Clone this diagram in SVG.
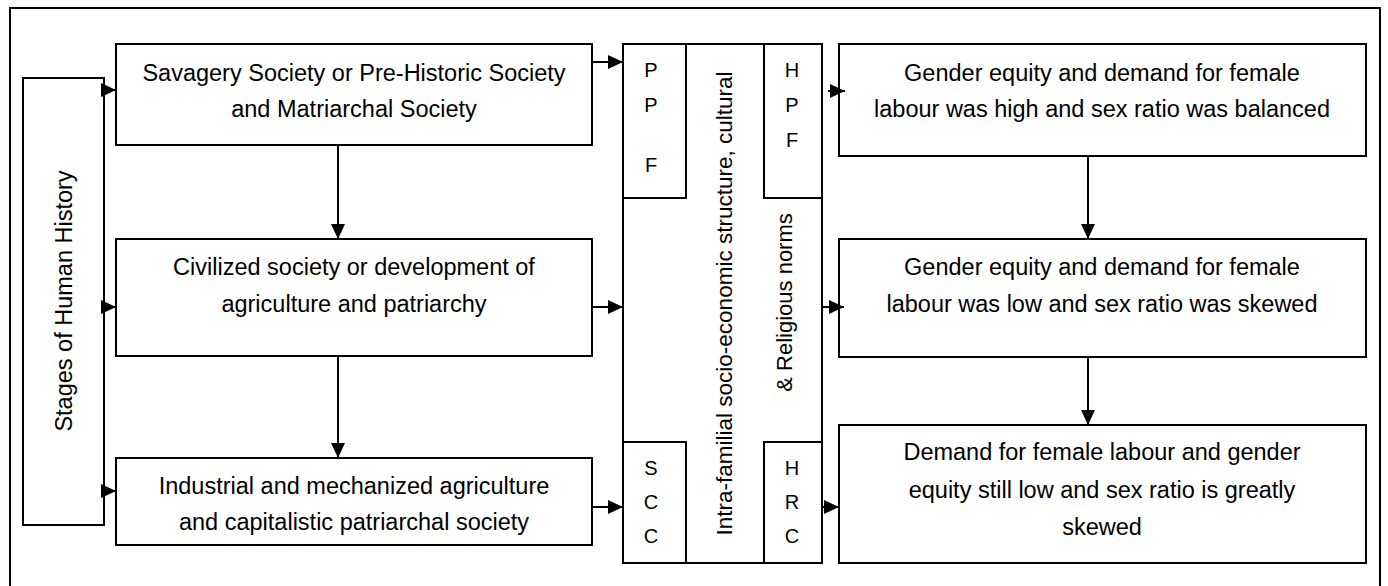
<svg xmlns="http://www.w3.org/2000/svg" width="1388" height="586" viewBox="0 0 1388 586">
<style>
.box{fill:#fff;stroke:#000;stroke-width:2}
.t{font-family:"Liberation Sans",Arial,sans-serif;font-size:23.5px;fill:#000;text-anchor:middle}
.s{font-family:"Liberation Sans",Arial,sans-serif;font-size:20px;fill:#000;text-anchor:middle}
.c{stroke:#000;stroke-width:2;fill:none;marker-end:url(#ah)}
</style>
<defs>
<marker id="ah" markerUnits="userSpaceOnUse" markerWidth="15" markerHeight="14" refX="15" refY="7" orient="auto">
<path d="M0,0 L15,7 L0,14 z" fill="#000"/>
</marker>
</defs>
<rect width="1388" height="586" fill="#fff"/>
<path d="M10,586 V8 H1380 V586" fill="none" stroke="#000" stroke-width="2"/>

<g id="stages">
<rect class="box" x="23" y="78" width="81" height="447"/>
<text class="t" transform="translate(72,301) rotate(-90)">Stages of Human History</text>
</g>

<g id="savagery">
<rect class="box" x="116" y="44" width="476" height="101"/>
<text class="t" x="354" y="81">Savagery Society or Pre-Historic Society</text>
<text class="t" x="354" y="117">and Matriarchal Society</text>
</g>

<g id="civilized">
<rect class="box" x="116" y="239" width="476" height="117"/>
<text class="t" x="354" y="275">Civilized society or development of</text>
<text class="t" x="354" y="312">agriculture and patriarchy</text>
</g>

<g id="industrial">
<rect class="box" x="116" y="458" width="476" height="87"/>
<text class="t" x="354" y="494">Industrial and mechanized agriculture</text>
<text class="t" x="354" y="530">and capitalistic patriarchal society</text>
</g>

<g id="middle">
<rect class="box" x="623" y="44" width="199" height="519"/>
<text class="t" style="font-size:22.5px" transform="translate(732,303.5) rotate(-90)">Intra-familial socio-economic structure, cultural</text>
<text class="t" style="font-size:22px" transform="translate(792,302.5) rotate(-90)">&amp; Religious norms</text>
</g>

<g id="ppf">
<rect class="box" x="623" y="44" width="63" height="154"/>
<text class="s" x="651" y="77">P</text>
<text class="s" x="651" y="112">P</text>
<text class="s" x="651" y="172">F</text>
</g>

<g id="hpf">
<rect class="box" x="764" y="44" width="58" height="154"/>
<text class="s" x="792" y="77">H</text>
<text class="s" x="792" y="112">P</text>
<text class="s" x="792" y="147">F</text>
</g>

<g id="scc">
<rect class="box" x="623" y="442" width="63" height="121"/>
<text class="s" x="651" y="475">S</text>
<text class="s" x="651" y="509">C</text>
<text class="s" x="651" y="543">C</text>
</g>

<g id="hrc">
<rect class="box" x="764" y="442" width="58" height="121"/>
<text class="s" x="792" y="475">H</text>
<text class="s" x="792" y="509">R</text>
<text class="s" x="792" y="543">C</text>
</g>

<g id="balanced">
<rect class="box" x="839" y="44" width="527" height="112"/>
<text class="t" x="1102" y="81">Gender equity and demand for female</text>
<text class="t" x="1102" y="117">labour was high and sex ratio was balanced</text>
</g>

<g id="skewed">
<rect class="box" x="839" y="239" width="527" height="118"/>
<text class="t" x="1102" y="275">Gender equity and demand for female</text>
<text class="t" x="1102" y="312">labour was low and sex ratio was skewed</text>
</g>

<g id="greatly">
<rect class="box" x="839" y="425" width="527" height="138"/>
<text class="t" x="1102" y="460">Demand for female labour and gender</text>
<text class="t" x="1102" y="498">equity still low and sex ratio is greatly</text>
<text class="t" x="1102" y="535">skewed</text>
</g>

<g id="connectors">
<line class="c" x1="104" y1="90" x2="116" y2="90"/>
<line class="c" x1="104" y1="307" x2="116" y2="307"/>
<line class="c" x1="104" y1="491" x2="116" y2="491"/>
<line class="c" x1="338" y1="145" x2="338" y2="239"/>
<line class="c" x1="338" y1="356" x2="338" y2="458"/>
<line class="c" x1="592" y1="62" x2="623" y2="62"/>
<line class="c" x1="592" y1="307" x2="623" y2="307"/>
<line class="c" x1="592" y1="507" x2="623" y2="507"/>
<line class="c" x1="828" y1="91" x2="845" y2="91"/>
<line class="c" x1="822" y1="307" x2="844" y2="307"/>
<line class="c" x1="822" y1="507" x2="839" y2="507"/>
<line class="c" x1="1088" y1="156" x2="1088" y2="239"/>
<line class="c" x1="1088" y1="357" x2="1088" y2="425"/>
</g>
</svg>
